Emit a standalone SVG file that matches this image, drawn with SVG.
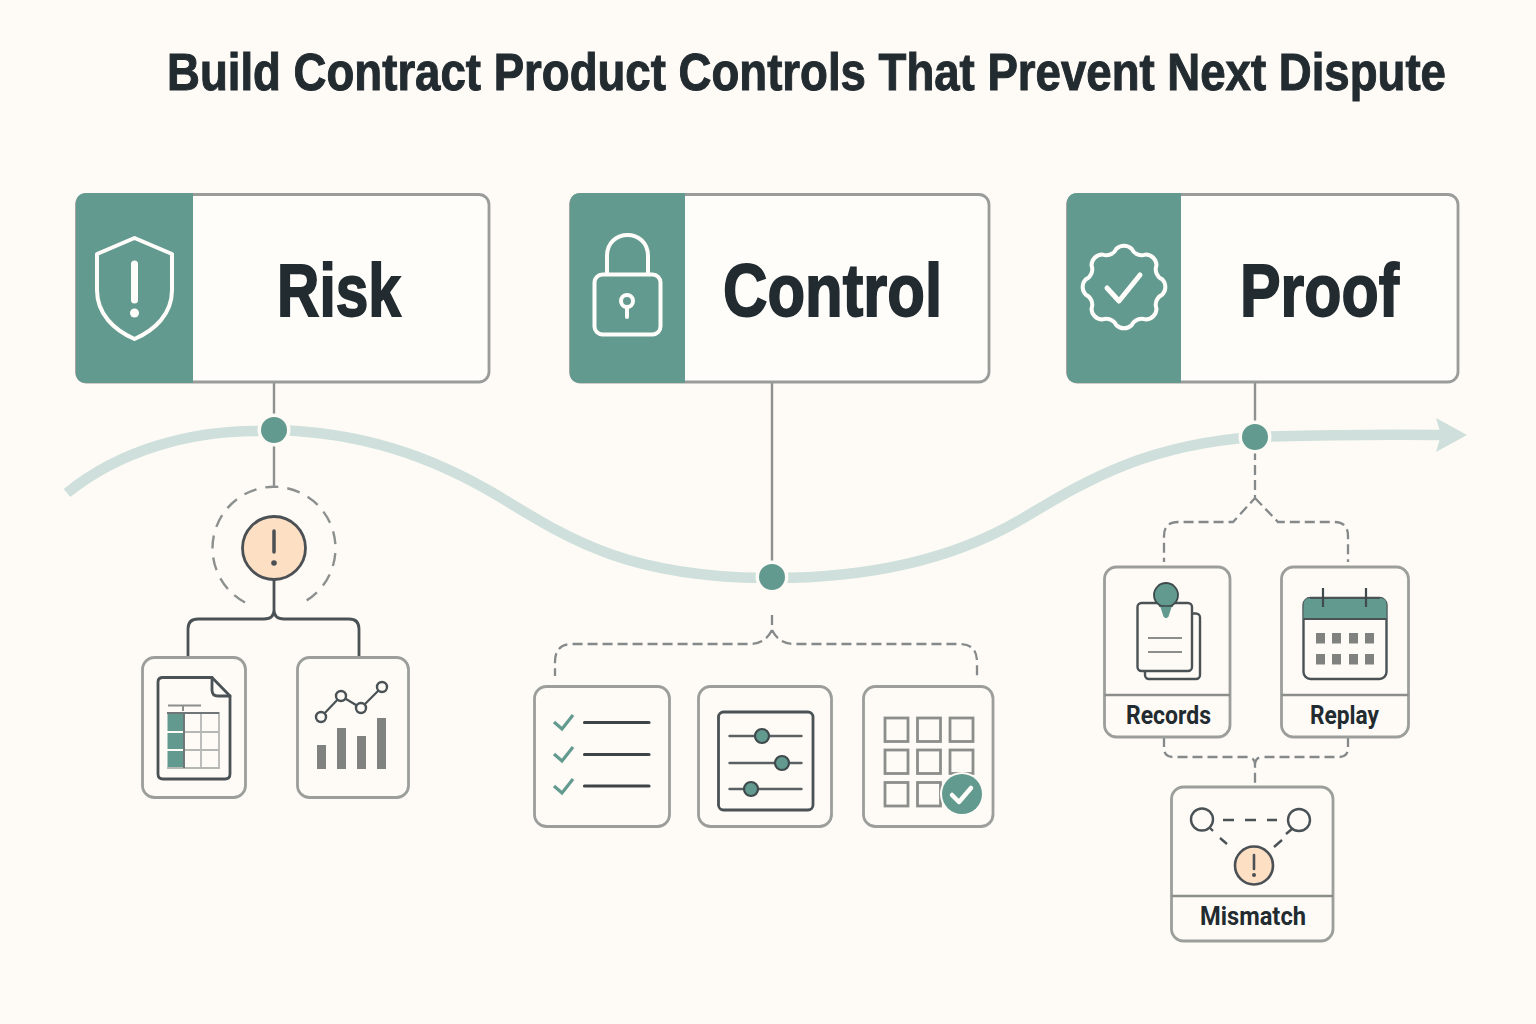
<svg xmlns="http://www.w3.org/2000/svg" width="1536" height="1024" viewBox="0 0 1536 1024">
<style>
.t{font-family:"Liberation Sans","Roboto",sans-serif;font-weight:700;fill:#222b30;stroke:#222b30}
.l{font-family:"Roboto","Liberation Sans",sans-serif;font-weight:700;fill:#222b30}
.card{fill:#fffdfa;stroke:#9a9c9a;stroke-width:2.800}
.sub{fill:#fefbf6;stroke:#9c9e9c;stroke-width:2.800}
.teal{fill:#629a90}
.w{fill:none;stroke:#fffdfa;stroke-width:4;stroke-linecap:round;stroke-linejoin:round}
.d{fill:none;stroke:#4a5256;stroke-width:2.8;stroke-linecap:round;stroke-linejoin:round}
.g{fill:none;stroke:#8c8e8c;stroke-width:2.8}
.b{fill:#808280}
.alert{fill:#fddfc4;stroke:#4a5054;stroke-width:2.8}
.dash{fill:none;stroke:#85898a;stroke-width:2.3;stroke-dasharray:10 5}
.node{fill:#629a90}
.ring{fill:none;stroke:#fefbf6;stroke-width:7}
</style>
<rect width="1536" height="1024" fill="#fefbf6"/>
<text class="t" transform="translate(167 89.500) scale(.894 1)" font-size="51" stroke-width="1">Build Contract Product Controls That Prevent Next Dispute</text>

<g id="connectors">
<path d="M67 493C120 450 190 431 257 431L274 430C360 432 430 455 500 497C570 540 630 578 772 578C880 578 960 555 1020 520C1080 485 1140 445 1255 437C1320 435 1380 434 1442 435" fill="none" stroke="#cfe0dc" stroke-width="10.500"/>
<path d="M1436 418L1467 435L1436 452L1441 435Z" fill="#cfe0dc"/>
<path d="M274 382V417M274 444V486M772 382V564M1255 382V424" fill="none" stroke="#8f9190" stroke-width="2.400"/>
<path d="M274 580V610Q274 619 264 619H198Q188 619 188 629V657M274 610Q274 619 284 619H349Q359 619 359 629V657" fill="none" stroke="#4a5256" stroke-width="2.800"/>
<path class="dash" d="M772 615V630M772 630Q765 644 750 644H572Q555 644 555 662V676M772 630Q779 644 794 644H960Q977 644 977 662V676"/>
<path class="dash" d="M1255 450V498L1233 522H1178Q1164 522 1164 536V562M1255 498L1278 522H1334Q1348 522 1348 536V562"/>
<path class="dash" d="M1164 737V748Q1164 757 1173 757H1247Q1255 757 1255 765V787M1348 737V748Q1348 757 1339 757H1263Q1255 757 1255 765"/>
</g>

<g id="node-dot-risk"><circle class="ring" cx="274" cy="430" r="13"/><circle class="node" cx="274" cy="430" r="13"/></g>
<g id="node-dot-control"><circle class="ring" cx="772" cy="577" r="13"/><circle class="node" cx="772" cy="577" r="13"/></g>
<g id="node-dot-proof"><circle class="ring" cx="1255" cy="437" r="13"/><circle class="node" cx="1255" cy="437" r="13"/></g>

<g id="risk">
<rect class="card" x="76.500" y="194.500" width="412.500" height="187.500" rx="10"/>
<path class="teal" d="M193 193H87Q76 193 76 204V373Q76 383 87 383H193Z"/>
<path class="w" d="M134.500 238L172 254V290C172 314 155 330 134.500 339C114 330 97 314 97 290V254Z"/>
<path class="w" d="M134.500 264V300" style="stroke-width:7"/>
<circle cx="134.500" cy="313" r="4.500" fill="#fffdfa"/>
<text class="t" x="277" y="316" font-size="75" stroke-width="1.800" textLength="124" lengthAdjust="spacingAndGlyphs">Risk</text>
</g>

<g id="control">
<rect class="card" x="570.500" y="194.500" width="418.500" height="187.500" rx="10"/>
<path class="teal" d="M685 193H581Q570 193 570 204V373Q570 383 581 383H685Z"/>
<rect class="w" x="594.500" y="274.500" width="66" height="60" rx="8"/>
<path class="w" d="M607 274V256C607 228 648 228 648 256V274"/>
<circle class="w" cx="627" cy="301" r="6"/>
<path class="w" d="M627 307V317"/>
<text class="t" x="723" y="316" font-size="75" stroke-width="1.800" textLength="219" lengthAdjust="spacingAndGlyphs">Control</text>
</g>

<g id="proof">
<rect class="card" x="1067.500" y="194.500" width="390.500" height="187.500" rx="10"/>
<path class="teal" d="M1181 193H1078Q1067 193 1067 204V373Q1067 383 1078 383H1181Z"/>
<path class="w" transform="translate(1124 287)" d="M38.300 -7.600A11 11 0 0 1 38.300 7.600A11 11 0 0 0 32.500 21.700A11 11 0 0 1 21.700 32.500A11 11 0 0 0 7.600 38.300A11 11 0 0 1 -7.600 38.300A11 11 0 0 0 -21.700 32.500A11 11 0 0 1 -32.500 21.700A11 11 0 0 0 -38.300 7.600A11 11 0 0 1 -38.300 -7.600A11 11 0 0 0 -32.500 -21.700A11 11 0 0 1 -21.700 -32.500A11 11 0 0 0 -7.600 -38.300A11 11 0 0 1 7.600 -38.300A11 11 0 0 0 21.700 -32.500A11 11 0 0 1 32.500 -21.700A11 11 0 0 0 38.300 -7.600Z"/>
<path class="w" d="M1107 288L1119 301L1140 275" style="stroke-width:5"/>
<text class="t" x="1240" y="316" font-size="75" stroke-width="1.800" textLength="159" lengthAdjust="spacingAndGlyphs">Proof</text>
</g>

<g id="risk-alert">
<path d="M245 602.500A61.500 61.500 0 1 1 303 602.500" fill="none" stroke="#8c908f" stroke-width="2.400" stroke-dasharray="13 9"/>
<circle class="alert" cx="274" cy="548" r="31.500"/>
<path d="M274 531V552" stroke="#4a5054" stroke-width="3.500" stroke-linecap="round"/>
<circle cx="274" cy="563" r="2.800" fill="#4a5054"/>
</g>

<g id="doc-card">
<rect class="sub" x="142.500" y="657.500" width="103" height="140" rx="12"/>
<path class="d" d="M163 677.500H212L230 696V774Q230 779 225 779H163Q158 779 158 774V682Q158 677.500 163 677.500Z"/>
<path class="d" d="M212 677.500V690Q212 696 218 696H230"/>
<path d="M168 705.500H201M183 705.500V711" stroke="#8c8e8c" stroke-width="2" fill="none"/>
<rect class="teal" x="167.500" y="714" width="16" height="17"/>
<rect class="teal" x="167.500" y="733" width="16" height="16"/>
<rect class="teal" x="167.500" y="751" width="16" height="16"/>
<path d="M167 713H219V768H167M201 713V768M184 713V768M184 732H219M184 750H219" fill="none" stroke="#b5b7b5" stroke-width="1.800"/>
<path d="M167 713H219" stroke="#5a6063" stroke-width="1.500"/>
<path d="M184 714V768" stroke="#3f4a4c" stroke-width="1.200"/>
</g>

<g id="chart-card">
<rect class="sub" x="297.500" y="657.500" width="111" height="140" rx="12"/>
<path class="d" d="M321 717L341 696L361 708L382 687" style="stroke-width:2.200"/>
<circle class="sub" style="stroke:#4a5256;stroke-width:2.400" cx="321" cy="717" r="5"/>
<circle class="sub" style="stroke:#4a5256;stroke-width:2.400" cx="341" cy="696" r="5"/>
<circle class="sub" style="stroke:#4a5256;stroke-width:2.400" cx="361" cy="708" r="5"/>
<circle class="sub" style="stroke:#4a5256;stroke-width:2.400" cx="382" cy="687" r="5"/>
<rect class="b" x="317" y="745" width="9" height="24"/>
<rect class="b" x="337" y="728" width="9" height="41"/>
<rect class="b" x="357" y="736" width="9" height="33"/>
<rect class="b" x="377" y="718" width="9" height="51"/>
</g>

<g id="checklist-card">
<rect class="sub" x="534.500" y="686.500" width="135" height="140" rx="12"/>
<path d="M554 722L562 729L573 715M554 754L562 761L573 747M554 786L562 793L573 779" fill="none" stroke="#629a90" stroke-width="3.200"/>
<path d="M584.500 722.500H649M584.500 754.500H649M584.500 786H649" stroke="#3c4448" stroke-width="3.200" stroke-linecap="round"/>
</g>

<g id="sliders-card">
<rect class="sub" x="698.500" y="686.500" width="133" height="140" rx="12"/>
<rect class="d" x="718.500" y="712" width="94.500" height="98" rx="5"/>
<path d="M729.500 736H801.500M729.500 763H801.500M729.500 789H801.500" stroke="#5a6063" stroke-width="2.400" stroke-linecap="round"/>
<circle class="teal" style="stroke:#3f4a4c;stroke-width:2.200" cx="762" cy="736" r="7"/>
<circle class="teal" style="stroke:#3f4a4c;stroke-width:2.200" cx="782" cy="763" r="7"/>
<circle class="teal" style="stroke:#3f4a4c;stroke-width:2.200" cx="751" cy="789" r="7"/>
</g>

<g id="grid-card">
<rect class="sub" x="863.500" y="686.500" width="129.500" height="140" rx="12"/>
<rect class="g" x="885" y="718" width="23" height="23.500"/><rect class="g" x="917.500" y="718" width="23" height="23.500"/><rect class="g" x="950" y="718" width="23" height="23.500"/>
<rect class="g" x="885" y="750" width="23" height="23.500"/><rect class="g" x="917.500" y="750" width="23" height="23.500"/><rect class="g" x="950" y="750" width="23" height="23.500"/>
<rect class="g" x="885" y="782.500" width="23" height="23.500"/><rect class="g" x="917.500" y="782.500" width="23" height="23.500"/>
<circle cx="962" cy="794" r="22" fill="#fefbf6"/>
<circle class="teal" cx="962" cy="794" r="20"/>
<path class="w" d="M952 795L959 802L971 788" style="stroke-width:4.500"/>
</g>

<g id="records">
<rect class="sub" x="1104.500" y="567" width="125.500" height="170" rx="12"/>
<path class="g" d="M1104.500 695H1230" style="stroke-width:2.400"/>
<rect class="d" x="1145" y="613.500" width="55" height="65.500" rx="4" style="stroke-width:2.400"/>
<rect class="d" x="1137.500" y="603" width="54.500" height="68" rx="4" style="fill:#fefbf6;stroke-width:2.400"/>
<path d="M1148 638H1182M1148 652H1182" stroke="#8c8e8c" stroke-width="2.200"/>
<circle class="teal" style="stroke:#3f4a4c;stroke-width:1.800" cx="1166" cy="595" r="12"/>
<path class="teal" d="M1160 606H1172L1168.500 616.500Q1166 620 1163.500 616.500Z"/>
<path d="M1159 606H1173" stroke="#3f4a4c" stroke-width="1.500"/>
<text class="l" x="1126" y="723.500" font-size="25" textLength="85" lengthAdjust="spacingAndGlyphs">Records</text>
</g>

<g id="replay">
<rect class="sub" x="1281.500" y="567" width="127" height="170" rx="12"/>
<path class="g" d="M1281.500 695H1408.500" style="stroke-width:2.400"/>
<rect class="d" x="1303.500" y="598" width="83" height="81" rx="7" style="stroke-width:2.400"/>
<path class="teal" d="M1310 598H1380Q1386.500 598 1386.500 605V619H1303.500V605Q1303.500 598 1310 598Z"/>
<path d="M1303.500 619H1386.500" stroke="#4a5256" stroke-width="2"/>
<path d="M1310 598H1380" stroke="#4a5256" stroke-width="2.200"/>
<path d="M1323 588V607M1366 588V607" stroke="#3f4a4c" stroke-width="2.200"/>
<g class="b"><rect x="1316" y="633" width="9" height="10.500"/><rect x="1332" y="633" width="9" height="10.500"/><rect x="1349" y="633" width="9" height="10.500"/><rect x="1365" y="633" width="9" height="10.500"/><rect x="1316" y="654" width="9" height="10.500"/><rect x="1332" y="654" width="9" height="10.500"/><rect x="1349" y="654" width="9" height="10.500"/><rect x="1365" y="654" width="9" height="10.500"/></g>
<text class="l" x="1310" y="723.500" font-size="25" textLength="69" lengthAdjust="spacingAndGlyphs">Replay</text>
</g>

<g id="mismatch">
<rect class="sub" x="1171.500" y="787" width="161.500" height="154" rx="12"/>
<path class="g" d="M1171.500 896H1333" style="stroke-width:2.400"/>
<circle class="d" style="stroke-width:2.400" cx="1202" cy="819.500" r="11"/>
<circle class="d" style="stroke-width:2.400" cx="1299" cy="820" r="11"/>
<path d="M1223 820H1277" stroke="#4a5256" stroke-width="2.600" stroke-dasharray="11 11"/>
<path d="M1210 828L1213 831M1220 838L1227 844M1292 829L1286 834M1282 840L1274 847" stroke="#4a5256" stroke-width="2.400"/>
<circle class="alert" style="stroke-width:2.600" cx="1254" cy="865.500" r="19"/>
<path d="M1254 855V869" stroke="#4a5054" stroke-width="2.600" stroke-linecap="round"/>
<circle cx="1254" cy="875" r="2" fill="#4a5054"/>
<text class="l" x="1200" y="925" font-size="25" textLength="106" lengthAdjust="spacingAndGlyphs">Mismatch</text>
</g>
</svg>
